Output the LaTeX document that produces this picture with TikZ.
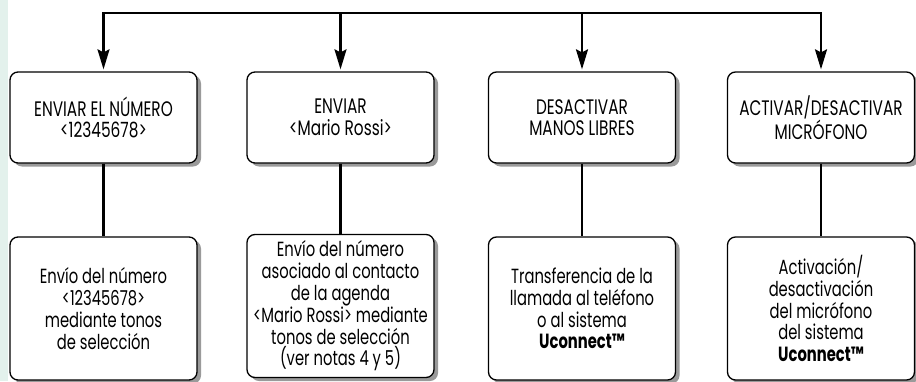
\documentclass[tikz,border=0pt]{standalone}
\usepackage{fontspec}
\setmainfont[FakeStretch=0.72]{Poppins}
\newfontfamily\capsfont[FakeStretch=0.73]{Poppins}
\usetikzlibrary{arrows.meta,shadows}
\definecolor{strip}{HTML}{E3F1EC}
\definecolor{shad}{HTML}{9A9A9A}
\begin{document}
\begin{tikzpicture}[x=1pt,y=-1pt,
  box/.style={draw=black, line width=1.3pt, rounded corners=8pt, fill=white,
    minimum width=187pt, align=center, inner sep=0pt,
    font=\fontsize{20.5}{21.8}\selectfont,
    drop shadow={shadow xshift=4pt, shadow yshift=-3.5pt, fill=shad, opacity=1}},
  topbox/.style={box, minimum height=91pt, font=\capsfont\fontsize{21}{21.5}\selectfont},
  lowbox/.style={box, minimum height=143pt},
  conn/.style={draw=black, line width=2.2pt},
  arr/.style={-{Stealth[length=20pt,width=12pt,inset=3pt]}, shorten >=2pt}
]
\useasboundingbox (0,0) rectangle (916,381);
\fill[strip] (0,0) rectangle (7.5,381);
\coordinate (topline) at (0,13);

\node[topbox] (t1) at (103.5,117.5) {ENVIAR EL NÚMERO\\<12345678>};
\node[topbox] (t2) at (340.5,117.5) {ENVIAR\\<Mario Rossi>};
\node[topbox] (t3) at (582,117.5) {DESACTIVAR\\MANOS LIBRES};
\node[topbox] (t4) at (821,117.5) {ACTIVAR/DESACTIVAR\\MICRÓFONO};

\node[lowbox] (b1) at (103.5,308.5) {Envío del número\\<12345678>\\mediante tonos\\de selección};
\node[lowbox] (b2) at (340.5,306) {Envío del número\\asociado al contacto\\de la agenda\\<Mario Rossi> mediante\\tonos de selección\\(ver notas 4 y 5)};
\node[lowbox] (b3) at (582,308.5) {Transferencia de la\\llamada al teléfono\\o al sistema\\\textbf{Uconnect™}};
\node[lowbox] (b4) at (821,308.5) {Activación/\\desactivación\\del micrófono\\del sistema\\\textbf{Uconnect™}};

\draw[conn, {Stealth[length=20pt,width=12pt,inset=3pt]}-{Stealth[length=20pt,width=12pt,inset=3pt]}, shorten <=2pt, shorten >=2pt]
  (t1.north) |- (t4.north |- topline) -- (t4.north);
\draw[conn, arr] (t2.north |- topline) -- (t2.north);
\draw[conn, arr] (t3.north |- topline) -- (t3.north);

\foreach \i in {1,2,3,4} {
  \draw[conn] (t\i.south) -- (b\i.north);
}
\end{tikzpicture}
\end{document}
